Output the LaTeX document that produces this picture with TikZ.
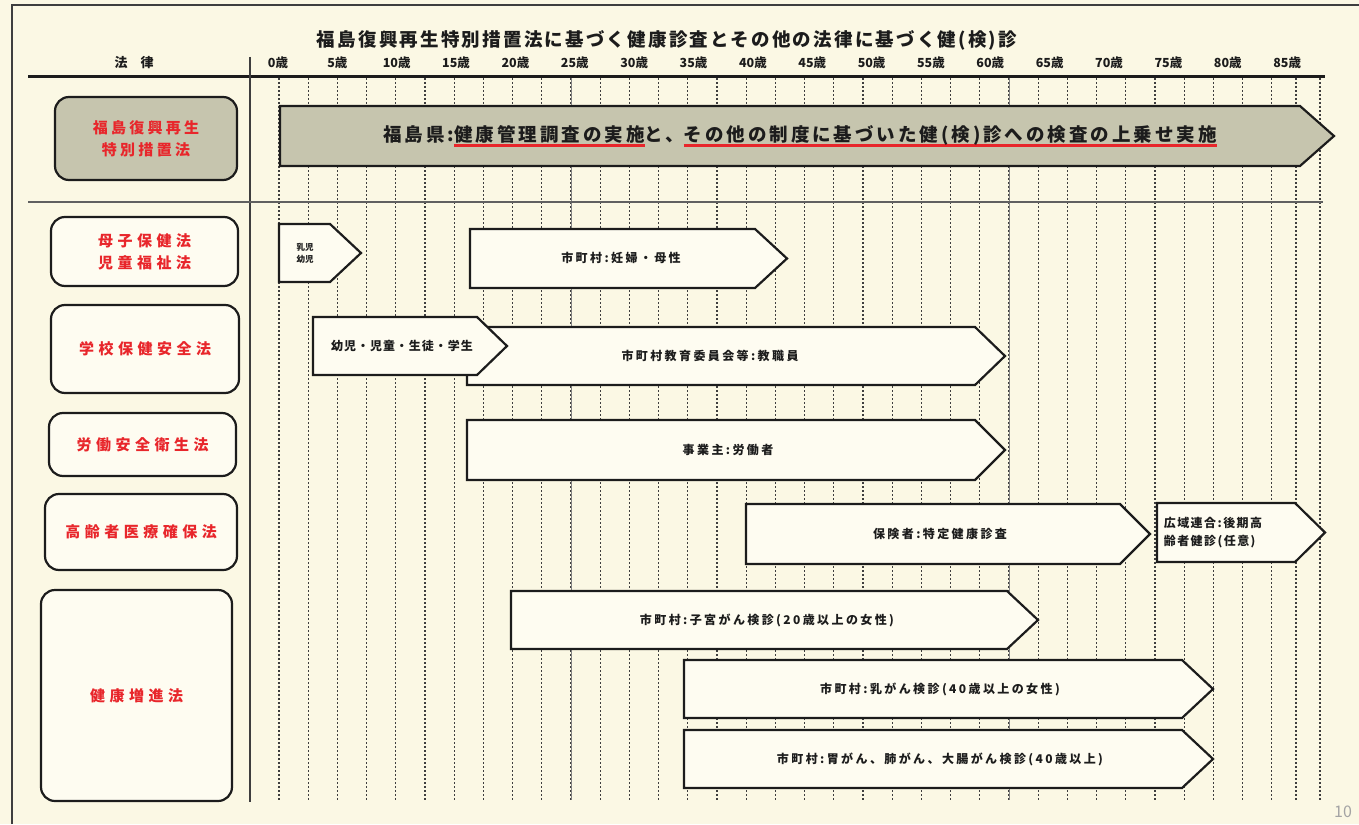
\documentclass[tikz,border=0pt]{standalone}
\usepackage{fontspec}
\setmainfont{Noto Sans CJK JP}
\definecolor{bgc}{HTML}{FBF8E4}
\definecolor{boxfill}{HTML}{FEFCF1}
\definecolor{grayfill}{HTML}{C6C5AE}
\definecolor{lawred}{HTML}{E8262B}
\definecolor{ink}{HTML}{1C1C1C}
\newcommand\ls[2]{{\addfontfeature{LetterSpace=#1}#2}}
\newcommand\redul[1]{\setbox0\hbox{#1}\rlap{\color{lawred}\rule[-5pt]{\wd0}{2.2pt}}\box0}
\newcommand\sigarrow[6]{\draw[arrowshape,#1] (#2,#3) -- (#5,#3) -- (#6,{(#3+#4)/2}) -- (#5,#4) -- (#2,#4) -- cycle;}
\tikzset{
  arrowshape/.style={draw=ink, line width=2.2pt, line join=miter, fill=boxfill},
  lawbox/.style={draw=ink, line width=2.2pt, rounded corners=14pt, fill=boxfill, inner sep=0pt,
     font=\fontsize{15}{22}\selectfont\bfseries, text=lawred, align=center},
  gridline/.style={draw=ink!85, line width=1.3pt, dash pattern=on 1.6pt off 2.4pt},
  gridsolid/.style={draw=ink!55, line width=0.8pt},
  agelab/.style={font=\fontsize{12.5}{14}\selectfont\bfseries, text=ink},
  atext/.style={font=\fontsize{12}{16}\selectfont\bfseries, text=ink, align=center, inner sep=0pt},
}
\begin{document}
\begin{tikzpicture}[x=1pt,y=-1pt]
\fill[bgc] (0,0) rectangle (1359,824);
\useasboundingbox (0,0) rectangle (1359,824);
% frame
\draw[ink!85, line width=1.8pt] (12,824) -- (12,5) -- (1359,5);
% grid lines
\foreach \k in {0,...,34} {\draw[gridline] ({279+29.2*\k},78) -- ({279+29.2*\k},800);}
\draw[gridline] (1296,78) -- (1296,800);
\draw[gridline] (1320,78) -- (1320,800);
\draw[gridsolid] (571,78) -- (571,800);
\draw[gridsolid] (1009,78) -- (1009,800);
% title
\node[font=\fontsize{18.5}{20}\selectfont\bfseries, text=ink, inner sep=0pt] (title) at (667,40)
  {\ls{12}{福島復興再生特別措置法に基づく健康診査とその他の法律に基づく健(検)診}};
% header
\node[agelab, font=\fontsize{13}{14}\selectfont\bfseries] (hdr) at (134,63) {法　律};
\foreach \a [count=\i from 0] in {0,5,...,85} {
  \node[agelab] (age\i) at ({278+59.36*\i},63) {\a 歳};
}
\draw[ink, line width=3pt] (28,77) -- (1325,77);
\draw[ink!85, line width=1.5pt] (250,57) -- (250,802);
\draw[ink!70, line width=2.6pt] (28,202) -- (1323,202);
% law boxes
\node[lawbox, fill=grayfill, minimum width=182pt, minimum height=83pt] (b0) at (146,138.5)
  {\ls{22}{福島復興再生}\\\ls{22}{特別措置法}};
\node[lawbox, minimum width=187pt, minimum height=69pt] (b1) at (144.5,251.5)
  {\ls{30}{母子保健法}\\\ls{30}{児童福祉法}};
\node[lawbox, minimum width=188pt, minimum height=88pt] (b2) at (145,349) {\ls{30}{学校保健安全法}};
\node[lawbox, minimum width=187pt, minimum height=63pt] (b3) at (142.5,444.5) {\ls{30}{労働安全衛生法}};
\node[lawbox, minimum width=192pt, minimum height=76pt] (b4) at (141,532) {\ls{30}{高齢者医療確保法}};
\node[lawbox, minimum width=191pt, minimum height=211pt] (b5) at (136.5,695.5) {\ls{30}{健康増進法}};
% arrows
\sigarrow{fill=grayfill}{280}{106}{166}{1300}{1334}
\node[font=\fontsize{18.5}{20}\selectfont\bfseries, text=ink, inner sep=0pt] (t0) at (800,136)
  {\ls{16}{福島県:\redul{健康管理調査の実施}と、\redul{その他の制度に基づいた健(検)診への検査の上乗せ実施}}};
\sigarrow{}{279}{224}{282}{330}{361}
\node[atext, font=\fontsize{8.5}{12}\selectfont\bfseries] (t1) at (305,253) {乳児\\幼児};
\sigarrow{}{470}{229}{288}{755}{787}
\node[atext] (t2) at (621,258) {\ls{20}{市町村:妊婦・母性}};
\sigarrow{}{467}{327}{385}{975}{1005}
\node[atext] (t3) at (710,356) {\ls{20}{市町村教育委員会等:教職員}};
\sigarrow{}{313}{317}{375}{477}{507}
\node[atext] (t4) at (402,346) {\ls{8}{幼児・児童・生徒・学生}};
\sigarrow{}{467}{420}{480}{975}{1005}
\node[atext] (t5) at (728,450) {\ls{20}{事業主:労働者}};
\sigarrow{}{746}{504}{564}{1120}{1150}
\node[atext] (t6) at (940,534) {\ls{20}{保険者:特定健康診査}};
\sigarrow{}{1157}{503}{562}{1295}{1325}
\node[atext, align=left] (t7) at (1213,533) {\ls{12}{広域連合:後期高}\\[2pt]\ls{12}{齢者健診(任意)}};
\sigarrow{}{511}{591}{649}{1007}{1038}
\node[atext] (t8) at (767,620) {\ls{20}{市町村:子宮がん検診(20歳以上の女性)}};
\sigarrow{}{684}{660}{718}{1182}{1213}
\node[atext] (t9) at (940,689) {\ls{20}{市町村:乳がん検診(40歳以上の女性)}};
\sigarrow{}{684}{730}{788}{1182}{1213}
\node[atext] (t10) at (940,759) {\ls{20}{市町村:胃がん、肺がん、大腸がん検診(40歳以上)}};
% page number
\node[font=\fontsize{16}{18}\selectfont, text=ink!40, inner sep=0pt] (pg) at (1343,812) {10};
\end{tikzpicture}
\end{document}
